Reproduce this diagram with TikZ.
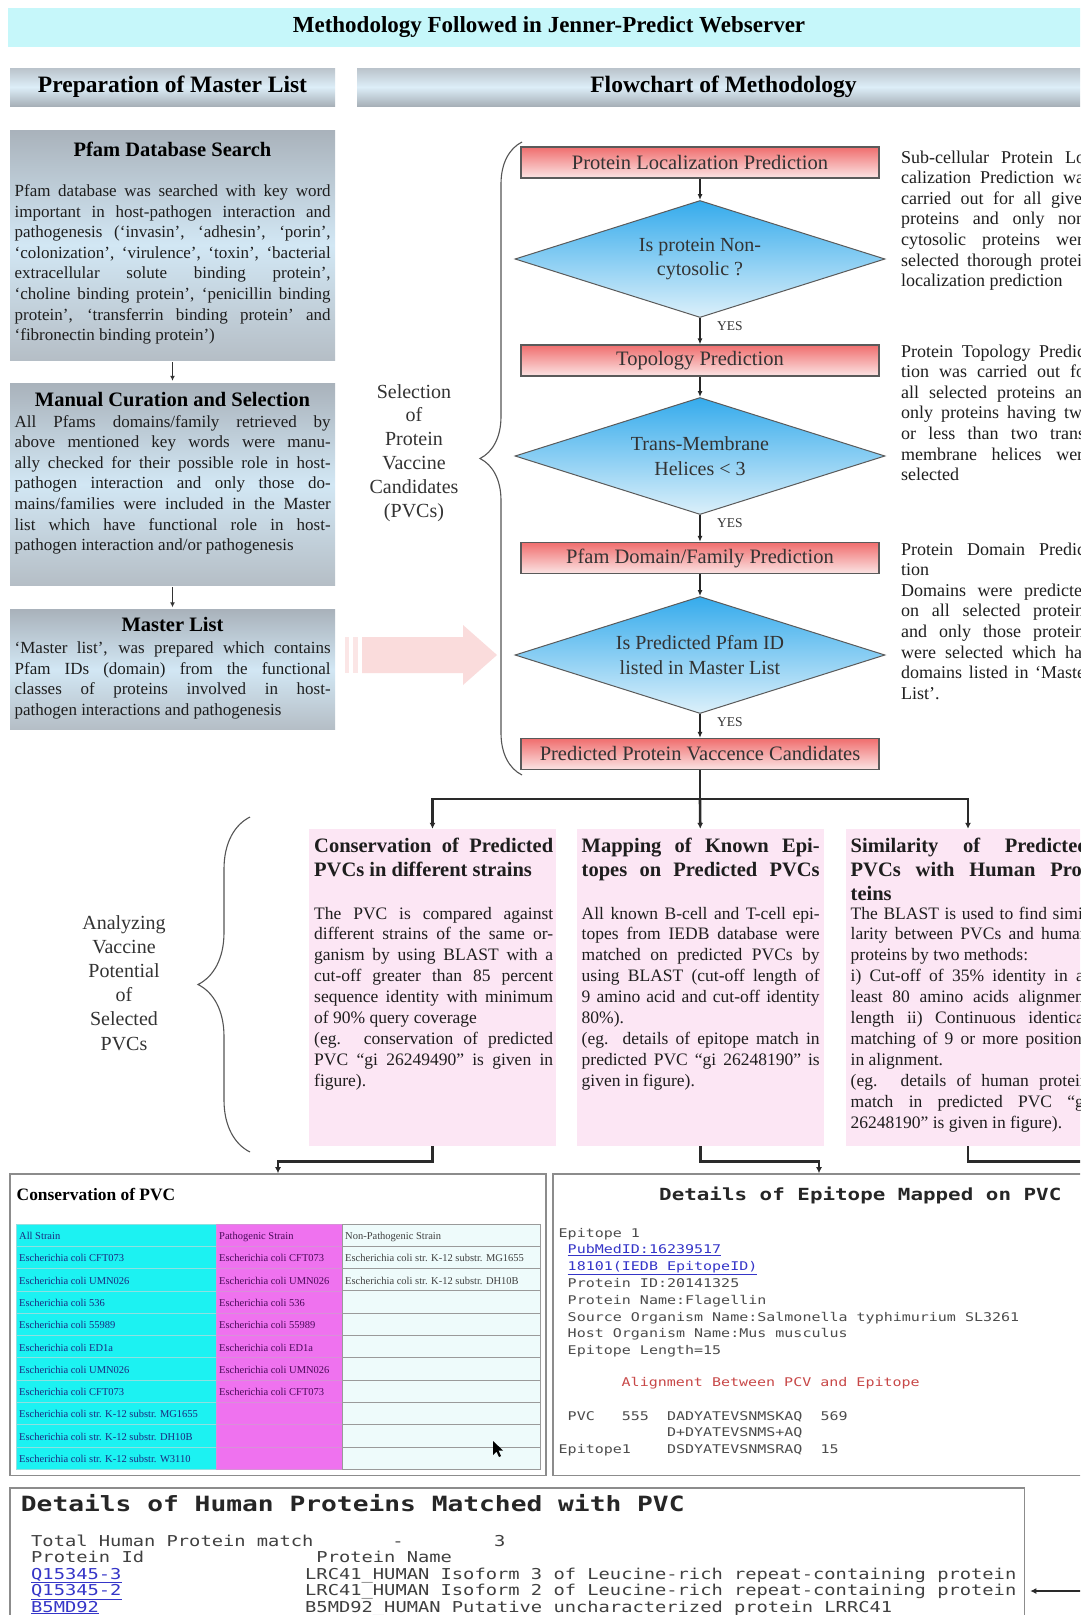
\documentclass[tikz,border=0pt]{standalone}
\usepackage{fontspec}
\setmainfont{Liberation Serif}
\newfontfamily\monof{DejaVu Sans Mono}[FakeStretch=1.25]
\usetikzlibrary{shapes.geometric,arrows.meta,decorations.pathreplacing,calc}

\definecolor{titlecyan}{HTML}{C6F7FA}
\definecolor{hdtop}{HTML}{BAC3CB}
\definecolor{hdmid}{HTML}{DDEEF8}
\definecolor{hdbot}{HTML}{A7B0B8}
\definecolor{gbtop}{HTML}{A9B2BB}
\definecolor{gbmid}{HTML}{D2E7F4}
\definecolor{gbbot}{HTML}{B5BEC6}
\definecolor{redtop}{HTML}{F06E6E}
\definecolor{redbot}{HTML}{FBE4E4}
\definecolor{bluetop}{HTML}{35ABEC}
\definecolor{bluebot}{HTML}{DCF0FA}
\definecolor{flowedge}{HTML}{5A5A5A}
\definecolor{pinkfill}{HTML}{FCE6F4}
\definecolor{cyancell}{HTML}{1CF2F2}
\definecolor{magcell}{HTML}{EF72EF}
\definecolor{palecell}{HTML}{EEFBFB}
\definecolor{cyanline}{HTML}{8FE0E0}
\definecolor{magline}{HTML}{D890D8}
\definecolor{paleline}{HTML}{9A9A9A}
\definecolor{cyantext}{HTML}{1B2A80}
\definecolor{magtext}{HTML}{4A0A5A}
\definecolor{linkblue}{HTML}{3535C8}
\definecolor{alignred}{HTML}{C84848}
\definecolor{bodytext}{HTML}{1E1E1E}
\definecolor{bracec}{HTML}{555555}
\definecolor{trunkc}{HTML}{2A2A2A}
\definecolor{panelc}{HTML}{8C8C8C}
\definecolor{pinkarrow}{HTML}{FADCDC}
\definecolor{pinkstripe}{HTML}{FBE6E6}

% justified line, ragged last line, and a block of such lines whose
% baseline is the baseline of its first line
\newcommand\jline[1]{\makebox[\hsize][s]{#1}\par}
\newcommand\lline[1]{\makebox[\hsize][l]{#1}\par}
\newcommand\tblock[3]{\vtop{\hsize=#1\relax\parindent=0pt\parskip=0pt\leftskip=0pt\rightskip=0pt\parfillskip=0pt plus 1fil #2#3}}
\newcommand\bodyfnt{\fontsize{17}{20.6}\selectfont}
\newcommand\notefnt{\fontsize{18}{20.6}\selectfont}
\newcommand\boxbodyfnt{\fontsize{17.5}{20.9}\selectfont}
\newcommand\boxheadfnt{\bfseries\fontsize{20.5}{24}\selectfont}

\tikzset{
  titlebar/.style={fill=titlecyan, minimum width=1082pt, minimum height=39pt, inner sep=0,
    font=\bfseries\fontsize{23}{27}\selectfont},
  headbar/.style={top color=hdtop, bottom color=hdbot, middle color=hdmid, minimum height=38pt,
    inner sep=0, font=\bfseries\fontsize{23.5}{28}\selectfont},
  greybox/.style={top color=gbtop, bottom color=gbbot, middle color=gbmid, inner sep=0, minimum width=325pt},
  boxtitle/.style={inner sep=0, font=\bfseries\fontsize{20.5}{24}\selectfont},
  textblock/.style={anchor=base west, inner sep=0, text=bodytext},
  flowrect/.style={rectangle, minimum width=358pt, minimum height=31pt, inner sep=0,
    top color=redtop, bottom color=redbot, draw=flowedge, line width=1.2pt,
    text=black!80, font=\fontsize{20.5}{24}\selectfont},
  decision/.style={diamond, aspect=3.16, minimum width=370pt, minimum height=117pt, inner sep=0,
    top color=bluetop, bottom color=bluebot, draw=flowedge, line width=1pt,
    align=center, text=black!80, font=\fontsize{20}{24.7}\selectfont},
  yeslabel/.style={anchor=base west, inner sep=0, text=black!80, font=\fontsize{13.5}{16}\selectfont},
  flowarrow/.style={draw=black!85, line width=1.6pt, -{Latex[length=6pt,width=5pt]}},
  smallarrow/.style={draw=black!80, line width=1.5pt, -{Latex[length=5pt,width=5pt]}, shorten <=2pt, shorten >=2pt},
  trunk/.style={draw=trunkc, line width=2.6pt},
  trunkarrow/.style={trunk, -{Latex[length=6pt,width=6pt]}},
  bracepath/.style={draw=bracec, line width=1.1pt, decorate},
  pinkbox/.style={fill=pinkfill, inner sep=0},
  panel/.style={draw=panelc, line width=1.6pt, fill=white, inner sep=0},
  bracetext/.style={anchor=base, inner sep=0, text=black!80},
  cellfont/.style={anchor=base west, inner sep=0, font=\fontsize{10.5}{12}\selectfont},
}

\begin{document}
\begin{tikzpicture}[x=1pt,y=-1pt]
\useasboundingbox (0,0) rectangle (1080,1615);
\clip (0,0) rectangle (1080,1615);
\fill[white] (0,0) rectangle (1080,1615);

% ---------- headings ----------
\node[titlebar] (title) at (549,27.5) {Methodology Followed in Jenner-Predict Webserver};
\node[headbar, minimum width=325pt] (prephead) at (172.5,87) {Preparation of Master List};
\node[headbar, minimum width=733pt] (flowhead) at (723.5,87) {Flowchart of Methodology};

% ---------- master list preparation ----------
\node[greybox, minimum height=230pt] (pfambox) at (172.5,245) {};
\node[greybox, minimum height=202pt] (curbox) at (172.5,484) {};
\node[greybox, minimum height=119.5pt] (mastbox) at (172.5,669.25) {};
\draw[smallarrow] (pfambox) -- (curbox);
\draw[smallarrow] (curbox) -- (mastbox);

\node[boxtitle] (pfamtitle) at (172.5,149) {Pfam Database Search};
\node[textblock] (pfamtext) at (14.5,196.5) {\tblock{316pt}{\bodyfnt}{%
\jline{Pfam database was searched with key word}%
\jline{important in host-pathogen interaction and}%
\jline{pathogenesis (‘invasin’, ‘adhesin’, ‘porin’,}%
\jline{‘colonization’, ‘virulence’, ‘toxin’, ‘bacterial}%
\jline{extracellular solute binding protein’,}%
\jline{‘choline binding protein’, ‘penicillin binding}%
\jline{protein’, ‘transferrin binding protein’ and}%
\lline{‘fibronectin binding protein’)}}};

\node[boxtitle] (curtitle) at (172.5,399.5) {Manual Curation and Selection};
\node[textblock] (curtext) at (14.5,427) {\tblock{316pt}{\bodyfnt}{%
\jline{All Pfams domains/family retrieved by}%
\jline{above mentioned key words were manu-}%
\jline{ally checked for their possible role in host-}%
\jline{pathogen interaction and only those do-}%
\jline{mains/families were included in the Master}%
\jline{list which have functional role in host-}%
\lline{pathogen interaction and/or pathogenesis}}};

\node[boxtitle] (masttitle) at (172.5,624) {Master List};
\node[textblock] (masttext) at (14.5,653.6) {\tblock{316pt}{\bodyfnt}{%
\jline{‘Master list’, was prepared which contains}%
\jline{Pfam IDs (domain) from the functional}%
\jline{classes of proteins involved in host-}%
\lline{pathogen interactions and pathogenesis}}};

% faint striped arrow from the master list towards the flowchart
\fill[pinkstripe] (345,637) rectangle (349,673);
\fill[pinkstripe] (353,637) rectangle (358,673);
\fill[pinkarrow]
  (362,637) -- (463,637) -- (463,625) -- (497,655) -- (463,685) -- (463,673) -- (362,673) -- cycle;

% ---------- flowchart ----------
\node[flowrect] (locpred) at (700,162.5) {Protein Localization Prediction};
\node[decision] (noncyto) at (700,259) {Is protein Non-\\cytosolic ?};
\node[flowrect] (topopred) at (700,360.5) {Topology Prediction};
\node[decision] (tmhel) at (700,456) {Trans-Membrane\\Helices < 3};
\node[flowrect] (pfampred) at (700,558) {Pfam Domain/Family Prediction};
\node[decision] (inlist) at (700,655) {Is Predicted Pfam ID\\listed in Master List};
\node[flowrect] (pvc) at (700,754) {Predicted Protein Vaccence Candidates};

\draw[flowarrow] (locpred) -- (noncyto);
\draw[flowarrow] (noncyto) -- (topopred);
\draw[flowarrow] (topopred) -- (tmhel);
\draw[flowarrow] (tmhel) -- (pfampred);
\draw[flowarrow] (pfampred) -- (inlist);
\draw[flowarrow] (inlist) -- (pvc);
\node[yeslabel] (yes1) at (717,330) {YES};
\node[yeslabel] (yes2) at (717,527.5) {YES};
\node[yeslabel] (yes3) at (717,726.5) {YES};

% notes beside the flowchart
\node[textblock] (note1) at (901,163) {\tblock{190pt}{\notefnt}{%
\jline{Sub-cellular Protein Lo-}%
\jline{calization Prediction was}%
\jline{carried out for all given}%
\jline{proteins and only non-}%
\jline{cytosolic proteins were}%
\jline{selected thorough protein}%
\lline{localization prediction}}};
\node[textblock] (note2) at (901,357) {\tblock{190pt}{\notefnt}{%
\jline{Protein Topology Predic-}%
\jline{tion was carried out for}%
\jline{all selected proteins and}%
\jline{only proteins having two}%
\jline{or less than two trans-}%
\jline{membrane helices were}%
\lline{selected}}};
\node[textblock] (note3) at (901,555) {\tblock{190pt}{\notefnt}{%
\jline{Protein Domain Predic-}%
\lline{tion}%
\jline{Domains were predicted}%
\jline{on all selected proteins}%
\jline{and only those proteins}%
\jline{were selected which had}%
\jline{domains listed in ‘Master}%
\lline{List’.}}};

% brace: selection stage
\draw[bracepath, decoration={brace, amplitude=42pt, aspect=0.5}] (522,775) -- (522,142);
\node[bracetext] (seltext) at (414,398) {\vtop{\hsize=150pt\centering\fontsize{20}{23.9}\selectfont
Selection\par of\par Protein\par Vaccine\par Candidates\par (PVCs)\par}};

% ---------- analysis of the candidates ----------
\node[pinkbox, minimum width=247pt, minimum height=317pt] (cbox) at (432.5,987.5) {};
\node[pinkbox, minimum width=247.5pt, minimum height=317pt] (mbox) at (700.25,987.5) {};
\node[pinkbox, minimum width=244pt, minimum height=317pt] (sbox) at (968,987.5) {};

\coordinate (split) at (700,799);
\draw[trunk] (pvc) -- (split);
\draw[trunkarrow] (split) -| (cbox.north);
\draw[trunkarrow] (split) -- (mbox.north);
\draw[trunkarrow] (split) -| (sbox.north);

\node[textblock] (chead) at (314,852) {\tblock{239pt}{\boxheadfnt}{%
\jline{Conservation of Predicted}%
\lline{PVCs in different strains}}};
\node[textblock] (cbody) at (314,919) {\tblock{239pt}{\boxbodyfnt}{%
\jline{The PVC is compared against}%
\jline{different strains of the same or-}%
\jline{ganism by using BLAST with a}%
\jline{cut-off greater than 85 percent}%
\jline{sequence identity with minimum}%
\lline{of 90\% query coverage}%
\jline{(eg. conservation of predicted}%
\jline{PVC “gi 26249490” is given in}%
\lline{figure).}}};

\node[textblock] (mhead) at (581.5,852) {\tblock{238pt}{\boxheadfnt}{%
\jline{Mapping of Known Epi-}%
\jline{topes on Predicted PVCs}}};
\node[textblock] (mbody) at (581.5,919) {\tblock{238pt}{\boxbodyfnt}{%
\jline{All known B-cell and T-cell epi-}%
\jline{topes from IEDB database were}%
\jline{matched on predicted PVCs by}%
\jline{using BLAST (cut-off length of}%
\jline{9 amino acid and cut-off identity}%
\lline{80\%).}%
\jline{(eg. details of epitope match in}%
\jline{predicted PVC “gi 26248190” is}%
\lline{given in figure).}}};

\node[textblock] (shead) at (850.5,852) {\tblock{238pt}{\boxheadfnt}{%
\jline{Similarity of Predicted}%
\jline{PVCs with Human Pro-}%
\lline{teins}}};
\node[textblock] (sbody) at (850.5,919) {\tblock{238pt}{\boxbodyfnt}{%
\jline{The BLAST is used to find simi-}%
\jline{larity between PVCs and human}%
\lline{proteins by two methods:}%
\jline{i) Cut-off of 35\% identity in at}%
\jline{least 80 amino acids alignment}%
\jline{length ii) Continuous identical}%
\jline{matching of 9 or more positions}%
\lline{in alignment.}%
\jline{(eg. details of human protein}%
\jline{match in predicted PVC “gi}%
\lline{26248190” is given in figure).}}};

% brace: analysis stage
\draw[bracepath, decoration={brace, amplitude=52pt, aspect=0.5}] (250,1152) -- (250,817);
\node[bracetext] (anatext) at (124,929) {\vtop{\hsize=150pt\centering\fontsize{20}{24.2}\selectfont
Analyzing\par Vaccine\par Potential\par of\par Selected\par PVCs\par}};

% ---------- result panels ----------
\node[panel, minimum width=536pt, minimum height=301.5pt] (conspanel) at (278,1324.75) {};
\node[panel, minimum width=532pt, minimum height=301.5pt] (epipanel) at (819,1324.75) {};
\node[panel, minimum width=1014.5pt, minimum height=212pt] (hppanel) at (517.25,1594) {};

\draw[trunkarrow] (cbox.south) -- ++(0,15) -| (conspanel.north);
\draw[trunkarrow] (mbox.south) -- ++(0,15) -| (epipanel.north);
\coordinate (hpin) at (1096,1591);
\draw[trunkarrow, shorten >=5pt] (sbox.south) -- ++(0,15) -| (hpin) -- (hpin -| hppanel.east);

% conservation table
\node[anchor=base west, inner sep=0, font=\bfseries\fontsize{17.4}{20}\selectfont] (constitle) at (16.5,1200) {Conservation of PVC};
\foreach \ca/\cb/\cc [count=\r from 0] in {
  All Strain/Pathogenic Strain/Non-Pathogenic Strain,
  Escherichia coli CFT073/Escherichia coli CFT073/Escherichia coli str. K-12 substr. MG1655,
  Escherichia coli UMN026/Escherichia coli UMN026/Escherichia coli str. K-12 substr. DH10B,
  Escherichia coli 536/Escherichia coli 536/{},
  Escherichia coli 55989/Escherichia coli 55989/{},
  Escherichia coli ED1a/Escherichia coli ED1a/{},
  Escherichia coli UMN026/Escherichia coli UMN026/{},
  Escherichia coli CFT073/Escherichia coli CFT073/{},
  Escherichia coli str. K-12 substr. MG1655/{}/{},
  Escherichia coli str. K-12 substr. DH10B/{}/{},
  Escherichia coli str. K-12 substr. W3110/{}/{}}{
  \pgfmathsetmacro\rt{1224+22.3*\r}
  \pgfmathsetmacro\rb{\rt+22.3}
  \pgfmathsetmacro\rbase{\rt+15.5}
  \path[fill=cyancell, draw=cyanline, line width=0.8pt] (16.5,\rt) rectangle (216.5,\rb);
  \path[fill=magcell, draw=magline, line width=0.8pt] (216.5,\rt) rectangle (342.5,\rb);
  \path[fill=palecell, draw=paleline, line width=1pt] (342.5,\rt) rectangle (540,\rb);
  \node[cellfont, text=cyantext] (ta\r) at (19,\rbase) {\ca};
  \node[cellfont, text=magtext] (tb\r) at (219,\rbase) {\cb};
  \node[cellfont, text=black!75] (tc\r) at (345,\rbase) {\cc};
}
% mouse pointer resting on the table
\fill[black] (493,1441) -- (493,1455) -- (496.5,1451.5) -- (499,1457) -- (501,1456) -- (498.5,1450.5) -- (503,1450.5) -- cycle;

% epitope details
\node[anchor=base west, inner sep=0, font=\monof\bfseries\fontsize{16.7}{20}\selectfont, text=black!85] (epititle) at (659,1200) {Details of Epitope Mapped on PVC};
\node[textblock, text=black!70] (epibody) at (558.5,1237) {\tblock{500pt}{\monof\fontsize{12}{16.8}\selectfont}{%
\lline{Epitope 1}%
\lline{~\textcolor{linkblue}{\underline{PubMedID:16239517}}}%
\lline{~\textcolor{linkblue}{\underline{18101(IEDB EpitopeID)}}}%
\lline{~Protein ID:20141325}%
\lline{~Protein Name:Flagellin}%
\lline{~Source Organism Name:Salmonella typhimurium SL3261}%
\lline{~Host Organism Name:Mus musculus}%
\lline{~Epitope Length=15}}};
\node[anchor=base west, inner sep=0, text=alignred, font=\monof\fontsize{12}{14}\selectfont] (alnhead) at (621.5,1386) {Alignment Between PCV and Epitope};
\node[textblock, text=black!70] (alnbody) at (558.5,1420) {\tblock{500pt}{\monof\fontsize{12}{16.6}\selectfont}{%
\lline{~PVC~~~555~~DADYATEVSNMSKAQ~~569}%
\lline{~~~~~~~~~~~~D+DYATEVSNMS+AQ}%
\lline{Epitope1~~~~DSDYATEVSNMSRAQ~~15}}};

% human protein matches
\node[anchor=base west, inner sep=0, font=\monof\bfseries\fontsize{21}{25}\selectfont, text=black!85] (hptitle) at (20.7,1511) {Details of Human Proteins Matched with PVC};
\node[textblock, text=black!75] (hpids) at (31,1546) {\tblock{500pt}{\monof\fontsize{15}{16.5}\selectfont}{%
\lline{Total Human Protein match~~~~~~~-~~~~~~~~3}%
\lline{Protein Id}%
\lline{\textcolor{linkblue}{\underline{Q15345-3}}}%
\lline{\textcolor{linkblue}{\underline{Q15345-2}}}%
\lline{\textcolor{linkblue}{\underline{B5MD92}}}}};
\node[textblock, text=black!75] (hpnames) at (305,1562.5) {\tblock{760pt}{\monof\fontsize{15}{16.5}\selectfont}{%
\lline{~Protein Name}%
\lline{LRC41\_HUMAN Isoform 3 of Leucine-rich repeat-containing protein}%
\lline{LRC41\_HUMAN Isoform 2 of Leucine-rich repeat-containing protein}%
\lline{B5MD92\_HUMAN Putative uncharacterized protein LRRC41}}};
\end{tikzpicture}
\end{document}
